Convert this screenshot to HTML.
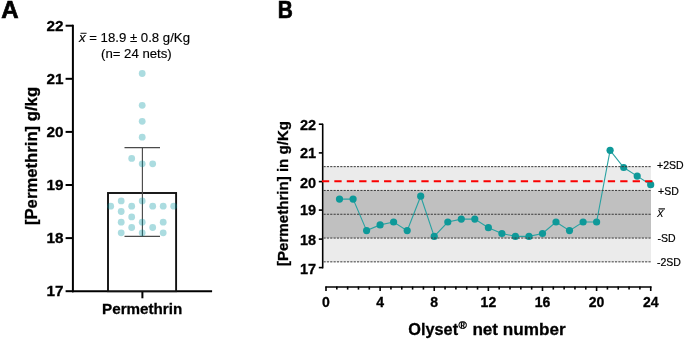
<!DOCTYPE html><html><head><meta charset="utf-8"><style>html,body{margin:0;padding:0;background:#fff;overflow:hidden}svg{display:block;will-change:transform}text{font-family:"Liberation Sans",sans-serif}text[font-weight=bold]{stroke:#000;stroke-width:0.3px}</style></head><body>
<svg width="685" height="340" viewBox="0 0 685 340">
<text x="1.3" y="17.8" font-size="24" font-weight="bold" style="stroke-width:0.7px">A</text>
<path d="M72.9 24.8V292.2" stroke="#000" stroke-width="2" fill="none"/>
<path d="M65.6 291.2H73" stroke="#000" stroke-width="2"/>
<text x="63.6" y="296.2" font-size="15.3" font-weight="bold" text-anchor="end">17</text>
<path d="M65.6 238.1H73" stroke="#000" stroke-width="2"/>
<text x="63.6" y="243.1" font-size="15.3" font-weight="bold" text-anchor="end">18</text>
<path d="M65.6 185.0H73" stroke="#000" stroke-width="2"/>
<text x="63.6" y="190.0" font-size="15.3" font-weight="bold" text-anchor="end">19</text>
<path d="M65.6 131.9H73" stroke="#000" stroke-width="2"/>
<text x="63.6" y="136.9" font-size="15.3" font-weight="bold" text-anchor="end">20</text>
<path d="M65.6 78.8H73" stroke="#000" stroke-width="2"/>
<text x="63.6" y="83.8" font-size="15.3" font-weight="bold" text-anchor="end">21</text>
<path d="M65.6 25.7H73" stroke="#000" stroke-width="2"/>
<text x="63.6" y="30.7" font-size="15.3" font-weight="bold" text-anchor="end">22</text>
<path d="M72 291.3H212.1" stroke="#000" stroke-width="2"/>
<path d="M142.4 291V298.3" stroke="#000" stroke-width="2"/>
<rect x="108" y="193" width="68.1" height="98.2" fill="#fff" stroke="#111" stroke-width="1.9"/>
<path d="M142.4 147.6V236.3M124.5 147.6H160M124.5 236.3H160" stroke="#4a4a4a" stroke-width="1.15" fill="none"/>
<circle cx="142.2" cy="73.5" r="3.4" fill="rgba(0,150,160,0.33)"/>
<circle cx="142.2" cy="105.3" r="3.4" fill="rgba(0,150,160,0.33)"/>
<circle cx="142.2" cy="121.3" r="3.4" fill="rgba(0,150,160,0.33)"/>
<circle cx="142.2" cy="137.2" r="3.4" fill="rgba(0,150,160,0.33)"/>
<circle cx="131.7" cy="158.4" r="3.4" fill="rgba(0,150,160,0.33)"/>
<circle cx="142.2" cy="163.8" r="3.4" fill="rgba(0,150,160,0.33)"/>
<circle cx="152.7" cy="163.8" r="3.4" fill="rgba(0,150,160,0.33)"/>
<circle cx="121.2" cy="200.9" r="3.4" fill="rgba(0,150,160,0.33)"/>
<circle cx="142.2" cy="200.9" r="3.4" fill="rgba(0,150,160,0.33)"/>
<circle cx="110.7" cy="206.2" r="3.4" fill="rgba(0,150,160,0.33)"/>
<circle cx="131.7" cy="206.2" r="3.4" fill="rgba(0,150,160,0.33)"/>
<circle cx="152.7" cy="206.2" r="3.4" fill="rgba(0,150,160,0.33)"/>
<circle cx="163.2" cy="206.2" r="3.4" fill="rgba(0,150,160,0.33)"/>
<circle cx="173.7" cy="206.2" r="3.4" fill="rgba(0,150,160,0.33)"/>
<circle cx="121.2" cy="211.5" r="3.4" fill="rgba(0,150,160,0.33)"/>
<circle cx="131.7" cy="216.9" r="3.4" fill="rgba(0,150,160,0.33)"/>
<circle cx="121.2" cy="222.2" r="3.4" fill="rgba(0,150,160,0.33)"/>
<circle cx="142.2" cy="222.2" r="3.4" fill="rgba(0,150,160,0.33)"/>
<circle cx="163.2" cy="222.2" r="3.4" fill="rgba(0,150,160,0.33)"/>
<circle cx="131.7" cy="227.5" r="3.4" fill="rgba(0,150,160,0.33)"/>
<circle cx="152.7" cy="227.5" r="3.4" fill="rgba(0,150,160,0.33)"/>
<circle cx="121.2" cy="232.8" r="3.4" fill="rgba(0,150,160,0.33)"/>
<circle cx="142.2" cy="232.8" r="3.4" fill="rgba(0,150,160,0.33)"/>
<circle cx="163.2" cy="232.8" r="3.4" fill="rgba(0,150,160,0.33)"/>
<text x="79" y="42" font-size="13.2" style="stroke:#000;stroke-width:0.15px"><tspan font-style="italic">x</tspan> = 18.9 ± 0.8 g/Kg</text>
<path d="M80.5 33.3H86.6" stroke="#222" stroke-width="1.1"/>
<text x="136.4" y="57.5" font-size="13.2" text-anchor="middle" style="stroke:#000;stroke-width:0.15px">(n= 24 nets)</text>
<text transform="translate(36.5 156) rotate(-90)" font-size="16.7" font-weight="bold" text-anchor="middle">[Permethrin] g/kg</text>
<text x="142.2" y="313.8" font-size="15.2" font-weight="bold" text-anchor="middle">Permethrin</text>
<text transform="translate(277.8 18) scale(0.87 1)" font-size="24" font-weight="bold" style="stroke-width:0.7px">B</text>
<rect x="323.5" y="166.65" width="327.5" height="23.80" fill="#ebebeb"/>
<rect x="323.5" y="190.45" width="327.5" height="47.60" fill="#c0c0c0"/>
<rect x="323.5" y="238.05" width="327.5" height="23.80" fill="#ebebeb"/>
<path d="M322.7 123.8V268.4" stroke="#000" stroke-width="1.6" fill="none"/>
<path d="M318.8 124.2H323" stroke="#000" stroke-width="1.6"/>
<text x="316.1" y="129.5" font-size="14.5" font-weight="bold" text-anchor="end">22</text>
<path d="M318.8 152.9H323" stroke="#000" stroke-width="1.6"/>
<text x="316.1" y="158.0" font-size="14.5" font-weight="bold" text-anchor="end">21</text>
<path d="M318.8 181.6H323" stroke="#000" stroke-width="1.6"/>
<text x="316.1" y="187.5" font-size="14.5" font-weight="bold" text-anchor="end">20</text>
<path d="M318.8 210.1H323" stroke="#000" stroke-width="1.6"/>
<text x="316.1" y="215.3" font-size="14.5" font-weight="bold" text-anchor="end">19</text>
<path d="M318.8 239.1H323" stroke="#000" stroke-width="1.6"/>
<text x="316.1" y="244.8" font-size="14.5" font-weight="bold" text-anchor="end">18</text>
<path d="M318.8 267.6H323" stroke="#000" stroke-width="1.6"/>
<text x="316.1" y="273.6" font-size="14.5" font-weight="bold" text-anchor="end">17</text>
<path d="M325.4 287H651.5" stroke="#000" stroke-width="1.6"/>
<path d="M326.00 286.5V291" stroke="#000" stroke-width="1.6"/>
<path d="M336.82 286.5V289.6" stroke="#000" stroke-width="1.6"/>
<path d="M347.65 286.5V289.6" stroke="#000" stroke-width="1.6"/>
<path d="M358.47 286.5V289.6" stroke="#000" stroke-width="1.6"/>
<path d="M369.30 286.5V289.6" stroke="#000" stroke-width="1.6"/>
<path d="M380.12 286.5V291" stroke="#000" stroke-width="1.6"/>
<path d="M390.94 286.5V289.6" stroke="#000" stroke-width="1.6"/>
<path d="M401.77 286.5V289.6" stroke="#000" stroke-width="1.6"/>
<path d="M412.59 286.5V289.6" stroke="#000" stroke-width="1.6"/>
<path d="M423.42 286.5V289.6" stroke="#000" stroke-width="1.6"/>
<path d="M434.24 286.5V291" stroke="#000" stroke-width="1.6"/>
<path d="M445.06 286.5V289.6" stroke="#000" stroke-width="1.6"/>
<path d="M455.89 286.5V289.6" stroke="#000" stroke-width="1.6"/>
<path d="M466.71 286.5V289.6" stroke="#000" stroke-width="1.6"/>
<path d="M477.54 286.5V289.6" stroke="#000" stroke-width="1.6"/>
<path d="M488.36 286.5V291" stroke="#000" stroke-width="1.6"/>
<path d="M499.18 286.5V289.6" stroke="#000" stroke-width="1.6"/>
<path d="M510.01 286.5V289.6" stroke="#000" stroke-width="1.6"/>
<path d="M520.83 286.5V289.6" stroke="#000" stroke-width="1.6"/>
<path d="M531.66 286.5V289.6" stroke="#000" stroke-width="1.6"/>
<path d="M542.48 286.5V291" stroke="#000" stroke-width="1.6"/>
<path d="M553.30 286.5V289.6" stroke="#000" stroke-width="1.6"/>
<path d="M564.13 286.5V289.6" stroke="#000" stroke-width="1.6"/>
<path d="M574.95 286.5V289.6" stroke="#000" stroke-width="1.6"/>
<path d="M585.78 286.5V289.6" stroke="#000" stroke-width="1.6"/>
<path d="M596.60 286.5V291" stroke="#000" stroke-width="1.6"/>
<path d="M607.42 286.5V289.6" stroke="#000" stroke-width="1.6"/>
<path d="M618.25 286.5V289.6" stroke="#000" stroke-width="1.6"/>
<path d="M629.07 286.5V289.6" stroke="#000" stroke-width="1.6"/>
<path d="M639.90 286.5V289.6" stroke="#000" stroke-width="1.6"/>
<path d="M650.72 286.5V291" stroke="#000" stroke-width="1.6"/>
<text x="326.0" y="307.2" font-size="14" font-weight="bold" text-anchor="middle">0</text>
<text x="380.1" y="307.2" font-size="14" font-weight="bold" text-anchor="middle">4</text>
<text x="434.2" y="307.2" font-size="14" font-weight="bold" text-anchor="middle">8</text>
<text x="488.4" y="307.2" font-size="14" font-weight="bold" text-anchor="middle">12</text>
<text x="542.5" y="307.2" font-size="14" font-weight="bold" text-anchor="middle">16</text>
<text x="596.6" y="307.2" font-size="14" font-weight="bold" text-anchor="middle">20</text>
<text x="650.7" y="307.2" font-size="14" font-weight="bold" text-anchor="middle">24</text>
<text x="408.3" y="334.7" font-size="17" font-weight="bold" textLength="49.8" lengthAdjust="spacingAndGlyphs">Olyset</text>
<text x="458.4" y="329" font-size="11.3" font-weight="bold">®</text>
<text x="472.4" y="334.7" font-size="17" font-weight="bold" textLength="93.2" lengthAdjust="spacingAndGlyphs">net number</text>
<text transform="translate(288 193.5) rotate(-90)" font-size="15.1" font-weight="bold" text-anchor="middle">[Permethrin] in g/Kg</text>
<polyline points="339.5,199.1 353.1,199.1 366.6,230.6 380.1,224.9 393.6,222.0 407.2,230.6 420.7,196.2 434.2,236.4 447.8,222.0 461.3,219.1 474.8,219.1 488.4,227.7 501.9,233.5 515.4,236.4 529.0,236.4 542.5,233.5 556.0,222.0 569.5,230.6 583.1,222.0 596.6,222.0 610.1,150.3 623.7,167.5 637.2,176.1 650.7,184.7" fill="none" stroke="#2aa2a2" stroke-width="1.1"/>
<circle cx="339.5" cy="199.1" r="3.6" fill="#0e9999"/>
<circle cx="353.1" cy="199.1" r="3.6" fill="#0e9999"/>
<circle cx="366.6" cy="230.6" r="3.6" fill="#0e9999"/>
<circle cx="380.1" cy="224.9" r="3.6" fill="#0e9999"/>
<circle cx="393.6" cy="222.0" r="3.6" fill="#0e9999"/>
<circle cx="407.2" cy="230.6" r="3.6" fill="#0e9999"/>
<circle cx="420.7" cy="196.2" r="3.6" fill="#0e9999"/>
<circle cx="434.2" cy="236.4" r="3.6" fill="#0e9999"/>
<circle cx="447.8" cy="222.0" r="3.6" fill="#0e9999"/>
<circle cx="461.3" cy="219.1" r="3.6" fill="#0e9999"/>
<circle cx="474.8" cy="219.1" r="3.6" fill="#0e9999"/>
<circle cx="488.4" cy="227.7" r="3.6" fill="#0e9999"/>
<circle cx="501.9" cy="233.5" r="3.6" fill="#0e9999"/>
<circle cx="515.4" cy="236.4" r="3.6" fill="#0e9999"/>
<circle cx="529.0" cy="236.4" r="3.6" fill="#0e9999"/>
<circle cx="542.5" cy="233.5" r="3.6" fill="#0e9999"/>
<circle cx="556.0" cy="222.0" r="3.6" fill="#0e9999"/>
<circle cx="569.5" cy="230.6" r="3.6" fill="#0e9999"/>
<circle cx="583.1" cy="222.0" r="3.6" fill="#0e9999"/>
<circle cx="596.6" cy="222.0" r="3.6" fill="#0e9999"/>
<circle cx="610.1" cy="150.3" r="3.6" fill="#0e9999"/>
<circle cx="623.7" cy="167.5" r="3.6" fill="#0e9999"/>
<circle cx="637.2" cy="176.1" r="3.6" fill="#0e9999"/>
<circle cx="650.7" cy="184.7" r="3.6" fill="#0e9999"/>
<path d="M323.5 166.65H651" stroke="#3a3a3a" stroke-width="1" stroke-dasharray="2.2 1.15"/>
<path d="M323.5 190.45H651" stroke="#3a3a3a" stroke-width="1" stroke-dasharray="2.2 1.15"/>
<path d="M323.5 214.25H651" stroke="#3a3a3a" stroke-width="1" stroke-dasharray="2.2 1.15"/>
<path d="M323.5 238.05H651" stroke="#3a3a3a" stroke-width="1" stroke-dasharray="2.2 1.15"/>
<path d="M323.5 261.85H651" stroke="#3a3a3a" stroke-width="1" stroke-dasharray="2.2 1.15"/>
<path d="M321.9 181.3H652.6" stroke="#fa0000" stroke-width="2" stroke-dasharray="7.3 5.13"/>
<text x="657" y="168.7" font-size="10.5" style="stroke:#000;stroke-width:0.2px">+2SD</text>
<text x="658" y="194.8" font-size="10.5" style="stroke:#000;stroke-width:0.2px">+SD</text>
<text x="657.6" y="241.8" font-size="10.5" style="stroke:#000;stroke-width:0.2px">-SD</text>
<text x="657" y="265.5" font-size="10.5" style="stroke:#000;stroke-width:0.2px">-2SD</text>
<text x="657.3" y="216.5" font-size="12.5" font-style="italic">x</text>
<path d="M658.6 208.9H665" stroke="#222" stroke-width="1.3"/>
</svg></body></html>
